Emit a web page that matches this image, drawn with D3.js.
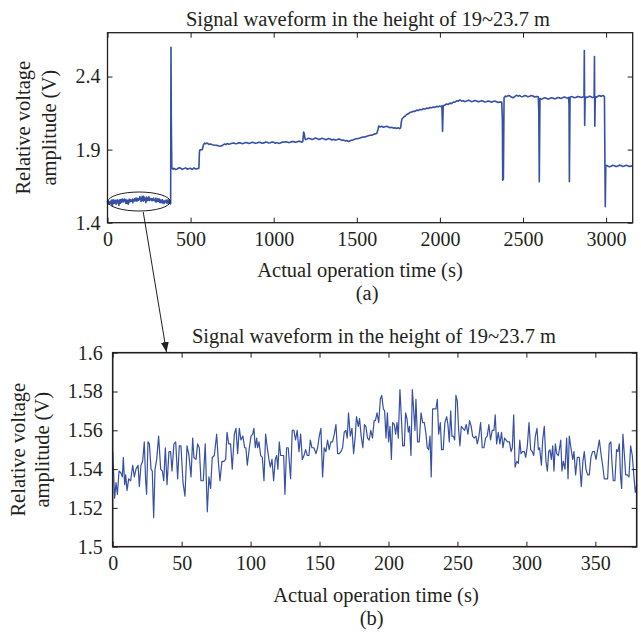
<!DOCTYPE html>
<html>
<head>
<meta charset="utf-8">
<script src="https://cdn.jsdelivr.net/npm/d3@7"></script>
<style>
  body { margin: 0; background: #fff; }
  svg text { font-family: "Liberation Serif", "DejaVu Serif", serif; fill: #231f20; }
</style>
</head>
<body>
<script>
var zoomPairs = [
[0,1.549],[1.4,1.525],[2.4,1.533],[3.4,1.527],[4.6,1.539],[6.0,1.538],[7.0,1.536],[7.7,1.546],[8.7,1.532],[9.4,1.537],
[10.4,1.529],[11.6,1.535],[13.0,1.534],[14.5,1.542],[15.7,1.536],[16.9,1.540],[18.4,1.542],[19.3,1.531],[20.5,1.542],[21.7,1.544],
[22.9,1.554],[23.9,1.534],[24.6,1.527],[25.6,1.554],[26.6,1.553],[27.8,1.540],[28.7,1.539],[29.7,1.515],[30.7,1.540],[31.9,1.545],
[33.3,1.557],[34.8,1.540],[36.0,1.539],[37.0,1.534],[38.2,1.551],[39.4,1.532],[40.8,1.549],[42.0,1.549],[43.0,1.539],[44.4,1.553],
[45.7,1.554],[47.1,1.535],[48.3,1.552],[49.5,1.552],[51.0,1.533],[52.4,1.526],[53.9,1.552],[55.3,1.547],[56.8,1.536],[58.0,1.556],
[58.9,1.546],[60.4,1.545],[61.6,1.553],[62.8,1.551],[64.0,1.534],[65.7,1.534],[67.1,1.553],[68.6,1.518],[69.8,1.536],[71.0,1.530],
[72.2,1.546],[73.7,1.547],[75.4,1.558],[76.6,1.544],[77.8,1.534],[79.2,1.544],[80.7,1.544],[81.9,1.545],[82.9,1.559],[84.1,1.553],
[85.5,1.553],[86.7,1.540],[88.2,1.558],[89.4,1.561],[90.6,1.548],[91.8,1.561],[93.0,1.555],[94.4,1.557],[95.7,1.551],[96.6,1.551],
[97.6,1.542],[99.1,1.551],[100.3,1.557],[101.5,1.558],[102.4,1.561],[103.4,1.551],[104.4,1.556],[105.1,1.551],[106.1,1.554],[107.3,1.547],
[108.5,1.546],[109.7,1.534],[110.9,1.558],[112.1,1.551],[113.3,1.545],[114.3,1.541],[115.5,1.545],[116.7,1.534],[117.9,1.545],[118.9,1.547],
[119.8,1.540],[120.8,1.554],[121.8,1.547],[123.0,1.547],[124.0,1.547],[124.9,1.527],[126.1,1.551],[127.3,1.551],[129.0,1.535],[130.2,1.560],
[131.4,1.560],[132.6,1.555],[133.8,1.560],[135.1,1.549],[136.3,1.558],[137.5,1.545],[138.7,1.547],[139.9,1.550],[141.1,1.547],[142.3,1.547],
[143.3,1.555],[144.5,1.551],[145.9,1.551],[147.4,1.548],[148.6,1.551],[149.8,1.557],[151.0,1.561],[152.2,1.536],[153.4,1.551],[154.6,1.549],
[155.8,1.555],[157.0,1.550],[158.2,1.554],[159.4,1.554],[160.7,1.558],[161.9,1.563],[163.1,1.548],[164.3,1.548],[165.5,1.549],[166.7,1.551],
[167.9,1.559],[169.1,1.560],[170.1,1.556],[171.0,1.569],[172.3,1.557],[173.5,1.561],[174.7,1.548],[175.9,1.557],[176.8,1.567],[178.1,1.562],
[179.0,1.566],[180.2,1.557],[181.4,1.551],[182.6,1.563],[183.6,1.562],[184.8,1.556],[186.0,1.555],[187.2,1.560],[188.4,1.556],[189.6,1.565],
[190.5,1.565],[191.7,1.569],[192.9,1.564],[194.1,1.576],[195.1,1.578],[196.3,1.571],[197.2,1.570],[198.2,1.556],[199.2,1.569],[200.1,1.554],
[201.1,1.562],[202.1,1.545],[203.0,1.564],[204.2,1.563],[205.2,1.558],[206.2,1.564],[207.1,1.556],[208.3,1.581],[209.3,1.567],[210.3,1.552],
[211.5,1.552],[212.4,1.569],[213.4,1.566],[214.4,1.559],[215.3,1.562],[216.3,1.547],[217.3,1.581],[218.2,1.571],[219.2,1.560],[219.9,1.576],
[221.1,1.554],[222.3,1.554],[223.6,1.569],[224.8,1.564],[226.0,1.564],[227.2,1.558],[228.1,1.551],[229.1,1.550],[230.1,1.557],[231.0,1.536],
[232.0,1.571],[233.2,1.571],[234.4,1.571],[235.4,1.576],[236.4,1.558],[237.6,1.564],[238.5,1.550],[239.7,1.550],[240.9,1.564],[242.2,1.567],
[243.1,1.563],[244.1,1.554],[245.1,1.570],[246.0,1.557],[247.0,1.557],[248.0,1.555],[248.9,1.578],[249.9,1.575],[250.9,1.560],[251.8,1.552],
[252.8,1.562],[254.0,1.561],[255.2,1.560],[256.4,1.563],[257.6,1.558],[258.8,1.565],[260.0,1.562],[261.0,1.557],[262.2,1.556],[263.4,1.557],
[264.4,1.553],[265.6,1.557],[266.8,1.564],[268.0,1.551],[269.2,1.551],[270.4,1.556],[271.6,1.557],[272.8,1.563],[274.0,1.555],[275.2,1.560],
[276.5,1.560],[277.4,1.568],[278.4,1.553],[279.6,1.559],[280.8,1.553],[282.0,1.559],[283.0,1.551],[284.2,1.556],[285.2,1.555],[286.5,1.554],
[287.7,1.554],[288.9,1.549],[289.8,1.551],[290.8,1.568],[291.8,1.541],[293.0,1.544],[294.2,1.543],[295.2,1.555],[296.1,1.548],[297.3,1.549],
[298.5,1.549],[299.5,1.546],[300.7,1.552],[301.9,1.564],[303.1,1.550],[304.3,1.549],[305.3,1.547],[306.5,1.557],[307.7,1.561],[308.7,1.550],
[309.6,1.551],[310.9,1.542],[311.8,1.555],[313.0,1.562],[314.2,1.544],[315.2,1.539],[316.2,1.549],[317.1,1.550],[318.1,1.545],[319.1,1.552],
[320.0,1.539],[321.0,1.553],[322.0,1.548],[323.2,1.547],[324.1,1.551],[324.9,1.555],[325.8,1.539],[326.8,1.544],[328.0,1.540],[329.2,1.556],
[330.2,1.535],[331.1,1.557],[332.3,1.551],[333.6,1.545],[334.5,1.549],[335.7,1.537],[336.9,1.546],[338.4,1.546],[339.8,1.531],[341.0,1.544],
[342.0,1.549],[343.2,1.540],[344.4,1.537],[345.6,1.537],[346.8,1.546],[348.0,1.549],[349.3,1.549],[350.5,1.545],[351.7,1.550],[352.9,1.555],
[354.1,1.548],[355.3,1.542],[356.5,1.535],[357.7,1.535],[358.9,1.535],[360.1,1.553],[361.3,1.554],[362.1,1.543],[363.0,1.534],[364.2,1.534],
[365.4,1.550],[366.4,1.549],[367.4,1.553],[368.3,1.536],[369.1,1.530],[370.0,1.558],[371.0,1.548],[372.0,1.537],[373.2,1.537],[374.4,1.536],
[375.6,1.552],[376.8,1.547],[378.0,1.536],[379.0,1.528],[380.0,1.532]
];

// rest of the run after 380 s (time s, volt V)
var restPairs = [
[382,2.60],[384,2.08],[387,1.775],[395,1.766],[400,1.772],[410,1.764],[420,1.768],[430,1.776],[440,1.774],[450,1.765],[460,1.770],[470,1.775],
[480,1.766],[490,1.771],[500,1.772],[510,1.764],[520,1.775],[530,1.767],[540,1.770],[550,1.773],
[553,1.880],[556,1.898],[570,1.900],[578,1.935],[584,1.944],[590,1.940],[600,1.945],[610,1.936],[620,1.939],[630,1.934],[640,1.931],[650,1.930],
[660,1.929],[670,1.925],[680,1.923],[690,1.928],[698,1.934],[705,1.938],[712,1.934],[720,1.942],[730,1.937],[740,1.940],[750,1.944],[760,1.945],
[770,1.940],[780,1.942],[790,1.947],[800,1.946],[810,1.941],[820,1.944],[830,1.948],[840,1.947],[850,1.942],[860,1.945],[870,1.950],[880,1.948],
[890,1.943],[900,1.946],[910,1.950],[920,1.949],[930,1.944],[940,1.946],[950,1.951],[960,1.950],[970,1.945],[980,1.947],[990,1.952],[1000,1.950],
[1010,1.944],[1020,1.948],[1030,1.943],[1040,1.945],[1050,1.951],[1060,1.950],[1070,1.954],[1080,1.952],[1090,1.948],[1100,1.950],[1110,1.956],
[1120,1.955],[1130,1.950],[1140,1.953],[1150,1.958],[1160,1.956],[1170,1.951],[1175,1.955],
[1180,2.020],[1184,2.010],[1188,1.975],[1194,1.968],[1200,1.972],[1210,1.978],[1220,1.975],[1230,1.969],[1240,1.973],[1250,1.979],[1260,1.976],
[1270,1.970],[1280,1.972],[1290,1.978],[1300,1.975],[1310,1.968],[1320,1.970],[1330,1.976],[1340,1.973],[1350,1.966],[1360,1.971],[1370,1.965],
[1380,1.968],[1390,1.972],[1400,1.970],[1410,1.963],[1420,1.966],[1430,1.960],[1440,1.962],[1450,1.956],[1460,1.960],[1470,1.965],[1480,1.968],
[1490,1.972],[1500,1.975],[1510,1.976],[1520,1.980],[1530,1.984],[1540,1.986],[1550,1.987],[1560,1.992],[1570,1.995],[1580,1.998],[1590,1.999],
[1600,2.003],[1610,2.008],[1620,2.010],[1628,2.040],[1632,2.062],[1640,2.055],[1650,2.060],[1660,2.053],[1670,2.057],[1680,2.060],[1690,2.055],
[1700,2.050],[1710,2.053],[1720,2.047],[1730,2.050],[1740,2.045],[1750,2.049],[1758,2.044],[1764,2.050],
[1768,2.090],[1772,2.110],[1778,2.118],[1785,2.125],[1792,2.130],[1800,2.140],[1810,2.145],[1820,2.155],[1830,2.157],[1840,2.163],[1850,2.162],
[1860,2.170],[1870,2.168],[1880,2.175],[1890,2.173],[1900,2.180],[1910,2.178],[1920,2.184],[1930,2.181],[1940,2.188],[1950,2.186],[1960,2.192],
[1970,2.189],[1980,2.196],[1990,2.193],[2000,2.198],[2006,2.194],[2012,2.200],[2016,2.025],[2020,2.200],[2030,2.205],[2040,2.212],[2050,2.209],
[2060,2.218],[2070,2.215],[2080,2.226],[2090,2.224],[2100,2.234],[2110,2.231],[2120,2.240],[2130,2.232],[2140,2.235],[2150,2.228],[2160,2.232],
[2170,2.237],[2180,2.235],[2190,2.228],[2200,2.231],[2210,2.236],[2220,2.233],[2230,2.227],[2240,2.230],[2250,2.235],[2260,2.232],[2270,2.226],
[2280,2.228],[2290,2.233],[2300,2.230],[2310,2.224],[2320,2.229],[2330,2.232],[2340,2.227],[2350,2.222],[2360,2.226],[2372,2.225],
[2376,2.100],[2378,1.691],[2382,1.700],[2386,2.255],[2393,2.266],[2400,2.262],[2410,2.270],[2420,2.268],[2430,2.260],[2440,2.255],[2450,2.262],
[2460,2.272],[2470,2.266],[2480,2.270],[2490,2.262],[2500,2.263],[2510,2.270],[2520,2.268],[2530,2.261],[2540,2.265],[2550,2.270],[2560,2.267],
[2570,2.260],[2580,2.264],[2592,2.262],[2595,2.160],[2598,1.680],[2602,2.250],[2610,2.244],[2620,2.250],[2630,2.255],[2640,2.252],[2650,2.246],
[2660,2.249],[2670,2.255],[2680,2.253],[2690,2.247],[2700,2.251],[2710,2.257],[2720,2.254],[2730,2.250],[2740,2.256],[2750,2.260],[2760,2.255],
[2770,2.251],[2775,2.257],[2777,2.200],[2779,1.680],[2783,2.258],[2790,2.263],[2800,2.260],[2810,2.255],[2820,2.258],[2830,2.264],[2840,2.262],
[2850,2.256],[2860,2.260],[2867,2.262],[2869,2.578],[2871,2.066],[2874,2.262],[2882,2.256],[2890,2.260],[2900,2.266],[2910,2.262],[2918,2.256],
[2925,2.258],[2928,2.262],[2930,2.537],[2932,2.060],[2935,2.262],[2942,2.258],[2950,2.265],[2960,2.270],[2970,2.264],[2978,2.270],[2985,2.268],
[2990,2.262],[2993,1.800],[2995,1.509],[2998,1.785],[3004,1.792],[3010,1.788],[3020,1.782],[3030,1.786],[3040,1.793],[3050,1.790],[3060,1.784],
[3070,1.787],[3080,1.794],[3090,1.791],[3100,1.785],[3110,1.788],[3120,1.793],[3130,1.790],[3140,1.784],[3150,1.787],[3160,1.789]
];

var topXTicks = [0, 500, 1000, 1500, 2000, 2500, 3000];
var topYTicks = [1.4, 1.9, 2.4];
var topYLabels = ["1.4", "1.9", "2.4"];
var botXTicks = [0, 50, 100, 150, 200, 250, 300, 350];
var botYTicks = [1.5, 1.52, 1.54, 1.56, 1.58, 1.6];
var botYLabels = ["1.5", "1.52", "1.54", "1.56", "1.58", "1.6"];

var titleText = "Signal waveform in the height of 19~23.7 m";
var lineColor = "#3550a5";
var fs = 20.5;

var svg = d3.select("body").append("svg").attr("width", 641).attr("height", 640);

function panel(o) {
    var x = d3.scaleLinear().domain(o.xd).range([o.l, o.r]);
    var y = d3.scaleLinear().domain(o.yd).range([o.b, o.t]);
    var g = svg.append("g");

    var line = d3.line().x(d => x(d[0])).y(d => y(d[1]));
    g.append("path").datum(o.data)
        .attr("fill", "none").attr("stroke", lineColor)
        .attr("stroke-width", o.lw).attr("stroke-linejoin", "round")
        .attr("d", line);

    var ax = d3.axisBottom(x).tickValues(o.xt).tickSizeInner(-5).tickSizeOuter(0).tickPadding(9)
        .tickFormat(d3.format("d"));
    var ay = d3.axisLeft(y).tickValues(o.yt).tickSizeInner(-5).tickSizeOuter(0).tickPadding(o.yp)
        .tickFormat((d, i) => o.yl[i]);
    var gx = g.append("g").attr("transform", `translate(0,${o.b})`).call(ax);
    var gy = g.append("g").attr("transform", `translate(${o.l},0)`).call(ay);
    var gt = g.append("g").attr("transform", `translate(0,${o.t})`)
        .call(d3.axisTop(x).tickValues(o.xt).tickSizeInner(-5).tickSizeOuter(0).tickFormat(""));
    var gr = g.append("g").attr("transform", `translate(${o.r},0)`)
        .call(d3.axisRight(y).tickValues(o.yt).tickSizeInner(-5).tickSizeOuter(0).tickFormat(""));
    [gx, gy, gt, gr].forEach(a => {
        a.select(".domain").remove();
        a.selectAll(".tick line").attr("stroke", "#231f20").attr("stroke-width", 1);
        a.selectAll("text").attr("font-size", 20).attr("font-family", "Liberation Serif, serif").attr("fill", "#231f20");
    });
    g.append("rect").attr("x", o.l).attr("y", o.t).attr("width", o.r - o.l).attr("height", o.b - o.t)
        .attr("fill", "none").attr("stroke", "#231f20").attr("stroke-width", o.fw);

    g.append("text").attr("x", o.tx).attr("y", o.ty).attr("text-anchor", "middle").attr("font-size", fs).text(titleText);
    g.append("text").attr("x", o.xlx).attr("y", o.xly).attr("text-anchor", "middle").attr("font-size", fs).text("Actual operation time (s)");
    g.append("text").attr("x", (o.l + o.r) / 2 - 3).attr("y", o.capy).attr("text-anchor", "middle").attr("font-size", fs).text(o.cap);
    var cy = (o.t + o.b) / 2;
    g.append("text").attr("transform", `translate(${o.yl1},${cy}) rotate(-90)`).attr("text-anchor", "middle").attr("font-size", fs).text("Relative voltage");
    g.append("text").attr("transform", `translate(${o.yl2},${cy}) rotate(-90)`).attr("text-anchor", "middle").attr("font-size", fs).text("amplitude (V)");
    return {x: x, y: y};
}

var A = panel({
    l: 107.5, r: 632.7, t: 32.7, b: 222.7, xd: [0, 3160], yd: [1.4, 2.7],
    data: zoomPairs.concat(restPairs), lw: 1.6, fw: 1.3,
    xt: topXTicks, yt: topYTicks, yl: topYLabels, yp: 7,
    tx: 368, ty: 26, xlx: 360, xly: 277, cap: "(a)", capy: 300, yl1: 30, yl2: 56
});
var B = panel({
    l: 112.7, r: 636.7, t: 352.7, b: 546.7, xd: [0, 380], yd: [1.5, 1.6],
    data: zoomPairs, lw: 1.2, fw: 1.6,
    xt: botXTicks, yt: botYTicks, yl: botYLabels, yp: 10,
    tx: 374, ty: 343, xlx: 376, xly: 602, cap: "(b)", capy: 625, yl1: 25, yl2: 49
});

// ellipse round the first 380 s and arrow to panel (b)
var ecx = A.x(190), ecy = A.y(1.545);
svg.append("ellipse").attr("cx", ecx).attr("cy", ecy)
    .attr("rx", A.x(187) - A.x(0)).attr("ry", 9.5)
    .attr("fill", "none").attr("stroke", "#231f20").attr("stroke-width", 1);

svg.append("defs").append("marker").attr("id", "arr")
    .attr("viewBox", "0 0 10 8").attr("refX", 10).attr("refY", 4)
    .attr("markerWidth", 10).attr("markerHeight", 8).attr("markerUnits", "userSpaceOnUse")
    .attr("orient", "auto")
    .append("path").attr("d", "M0,0L10,4L0,8Z").attr("fill", "#231f20");

svg.append("line")
    .attr("x1", A.x(215)).attr("y1", ecy + 10.5)
    .attr("x2", B.x(39)).attr("y2", 352)
    .attr("stroke", "#231f20").attr("stroke-width", 1)
    .attr("marker-end", "url(#arr)");
</script>
</body>
</html>
